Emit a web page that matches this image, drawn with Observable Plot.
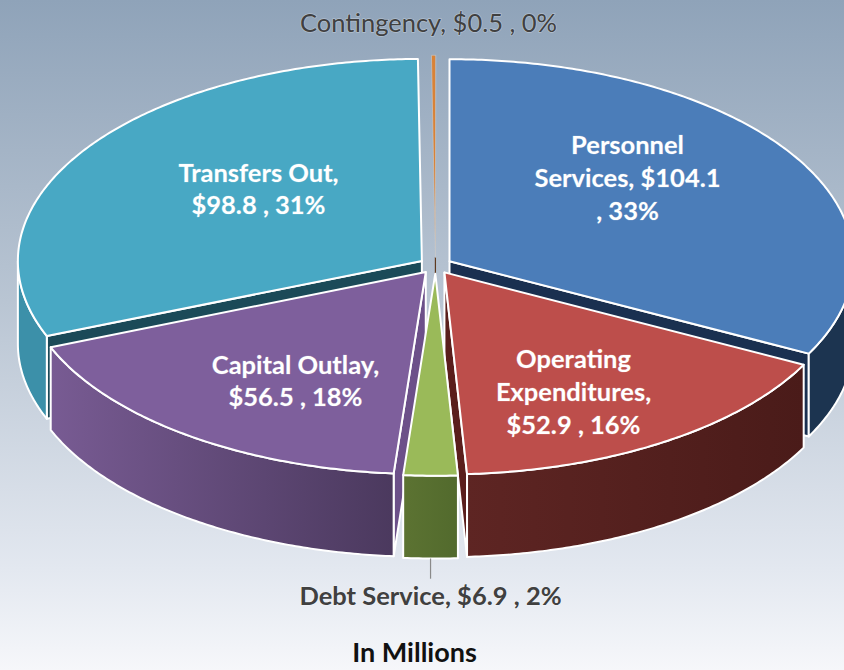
<!DOCTYPE html>
<html>
<head>
<meta charset="utf-8">
<script src="https://cdn.jsdelivr.net/npm/d3@7"></script>
<script src="https://cdn.jsdelivr.net/npm/@observablehq/plot@0.6"></script>
<style>html,body{margin:0;padding:0;background:#fff}svg{display:block}</style>
</head>
<body>
<div id="chart"></div>
<script>
// Data, in pie order clockwise from 12 o'clock
const categories = ["Personnel Services", "Operating Expenditures", "Debt Service", "Capital Outlay", "Transfers Out", "Contingency"];
const amounts = [104.1, 52.9, 6.9, 56.5, 98.8, 0.5];
const labelTexts = [
  "Personnel\nServices, $104.1\n, 33%",
  "Operating\nExpenditures,\n$52.9 , 16%",
  "Debt Service, $6.9 , 2%",
  "Capital Outlay,\n$56.5 , 18%",
  "Transfers Out,\n$98.8 , 31%",
  "Contingency, $0.5 , 0%"
];
const footnote = "In Millions";

// Projection of the tilted pie, in unit-circle coordinates (y grows downward)
const explode = 0.0406, depth = 0.41, TAU = 2 * Math.PI;
const total = d3.sum(amounts);
let running = 0;
const slices = categories.map((name, i) => {
  const a0 = running / total * TAU;
  running += amounts[i];
  const a1 = running / total * TAU;
  const mid = (a0 + a1) / 2;
  return {name, a0, a1, mid, ox: explode * Math.sin(mid), oy: -explode * Math.cos(mid)};
});
const rim = (s, a, drop = 0) => ({x: s.ox + Math.sin(a), y: s.oy - Math.cos(a) + drop});
const apex = (s, drop = 0) => ({x: s.ox, y: s.oy + drop});
const arc = (s, a0, a1, drop = 0) => {
  const n = Math.max(2, Math.ceil(Math.abs(a1 - a0) / 0.01));
  return d3.range(n + 1).map(k => rim(s, a0 + (a1 - a0) * k / n, drop));
};
const topFace = s => [apex(s), ...arc(s, s.a0, s.a1)];
const outerWall = (s, a0, a1) => [...arc(s, a0, a1), ...arc(s, a1, a0, depth)];
const radialWall = (s, a) => [apex(s), rim(s, a), rim(s, a, depth), apex(s, depth)];

const [personnel, operating, debt, capital, transfers, contingency] = slices;
const QUARTER = TAU / 4, THREE_Q = 3 * TAU / 4;

// Painter's order, back to front
const faces = [
  {pts: [apex(contingency), apex(contingency, depth)], fill: "none", stroke: "#5e3a20", strokeWidth: 1.2},
  {pts: topFace(contingency), fill: "#d98236", stroke: "#c9ccd0", strokeWidth: 0.6},

  {pts: radialWall(transfers, transfers.a0), fill: "#1b4a58"},
  {pts: outerWall(transfers, transfers.a0, THREE_Q), fill: "#3c90a9"},
  {pts: topFace(transfers), fill: "#48a8c4"},

  {pts: radialWall(personnel, personnel.a1), fill: "#1a3050"},
  {pts: outerWall(personnel, QUARTER, personnel.a1), fill: "#1c3450"},
  {pts: topFace(personnel), fill: "#4b7db9"},

  {pts: radialWall(operating, operating.a1), fill: "#5a1e1c"},
  {pts: outerWall(operating, operating.a0, operating.a1), fill: "url(#wallRed)"},
  {pts: topFace(operating), fill: "#bd4e4b"},

  {pts: radialWall(capital, capital.a0), fill: "#6c5089"},
  {pts: outerWall(capital, capital.a0, capital.a1), fill: "url(#wallPurple)"},
  {pts: topFace(capital), fill: "#7e5f9c"},

  {pts: outerWall(debt, debt.a0, debt.a1), fill: "url(#wallGreen)"},
  {pts: topFace(debt), fill: "#9aba59"}
];

const leader = rim(debt, debt.mid, depth);

const textMark = (text, dx, dy, o) => Plot.text([text], {
  text: d => d, frameAnchor: "top-left", textAnchor: "middle", lineAnchor: "middle", dx, dy,
  fontFamily: "Lato, Carlito, sans-serif", fontSize: 25.5, lineHeight: 1.29, ...o
});
const white = {fill: "#ffffff", fontWeight: 700, stroke: "#ffffff", strokeOpacity: 0.18, strokeWidth: 1};
const grey = {fill: "#404040", stroke: "#ffffff", strokeOpacity: 0.3, strokeWidth: 1.5};

const chart = Plot.plot({
  width: 844, height: 670, margin: 0,
  x: {axis: null, domain: [-1, 1], range: [31, 839]},
  y: {axis: null, domain: [-1, 1], range: [63, 467]},
  style: {background: "linear-gradient(180deg,#8fa3b9 0%,#b9c5d3 45%,#e3e8f0 85%,#f6f7fa 100%)"},
  marks: [
    ...faces.map(f => Plot.line(f.pts, {
      x: "x", y: "y", curve: "linear-closed",
      fill: f.fill, stroke: f.stroke || "#ffffff", strokeWidth: f.strokeWidth || 2,
      strokeLinejoin: "round"
    })),
    Plot.link([leader], {x1: "x", y1: "y", x2: "x", y2: d => d.y + 0.1, stroke: "#8a8a8a", strokeWidth: 1.2}),
    textMark(labelTexts[0], 627, 176, white),
    textMark(labelTexts[1], 573, 390, white),
    textMark(labelTexts[3], 295, 379, white),
    textMark(labelTexts[4], 258, 187, white),
    textMark(labelTexts[5], 428, 21, grey),
    textMark(labelTexts[2], 430, 594, {...grey, fontWeight: 700}),
    textMark(footnote, 414, 650, {fill: "#111111", fontWeight: 700, fontSize: 27})
  ]
});

// Horizontal shading on the front walls
const defs = d3.select(chart).append("defs");
[["wallPurple", "#785b93", "#4b395e"], ["wallRed", "#5e2523", "#4a1b19"], ["wallGreen", "#5c7332", "#526a2d"]].forEach(([id, c0, c1]) => {
  const g = defs.append("linearGradient").attr("id", id);
  g.append("stop").attr("offset", "0%").attr("stop-color", c0);
  g.append("stop").attr("offset", "100%").attr("stop-color", c1);
});
document.getElementById("chart").append(chart);
</script>
</body>
</html>
